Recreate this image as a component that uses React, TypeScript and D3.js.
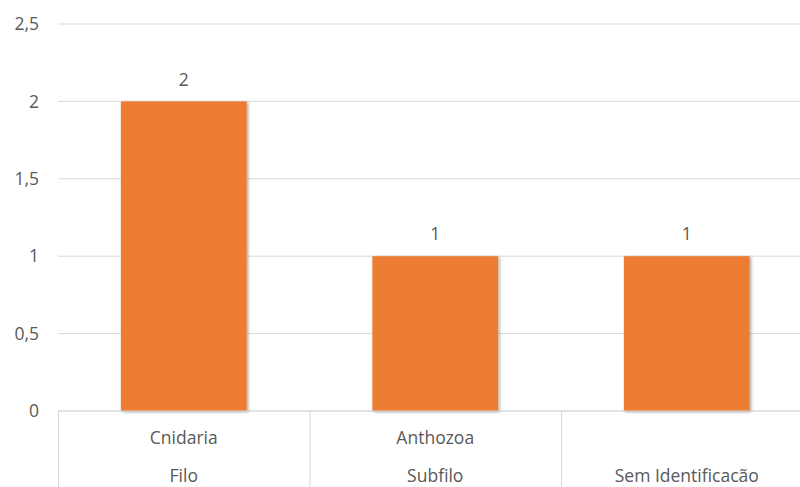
import React from "react";
import * as d3 from "d3";

const categories = ["Cnidaria", "Anthozoa", ""];
const groups = ["Filo", "Subfilo", "Sem Identificacão"];
const values = [2, 1, 1];
const yTicks = [0, 0.5, 1, 1.5, 2, 2.5];

const W = 800;
const H = 487;
const FONT = "'Open Sans', 'Liberation Sans', sans-serif";
const FS = 17.5;
const TEXT = "#595959";

export default function App() {
  const x = d3
    .scaleBand<number>()
    .domain(d3.range(values.length))
    .range([58, 812.5])
    .paddingInner(0.5)
    .paddingOuter(0.25);
  const y = d3.scaleLinear().domain([0, 2.5]).range([411, 24]);
  const step = x.step();
  const bandStart = (i: number) => (x(i) as number) - step * 0.25;
  const fmt = (v: number) => String(v).replace(".", ",");

  return (
    <svg
      width={W}
      height={H}
      style={{ position: "absolute", left: 0, top: 0, background: "#fff" }}
    >
      <defs>
        <filter id="sh" x="-10%" y="-10%" width="130%" height="130%">
          <feDropShadow dx="1.5" dy="1" stdDeviation="1.5" floodColor="#000" floodOpacity="0.35" />
        </filter>
      </defs>
      {yTicks.map((t) => (
        <g key={t}>
          <line x1={58} x2={W} y1={y(t)} y2={y(t)} stroke="#d9d9d9" strokeWidth={1} />
          <text
            x={39}
            y={y(t)}
            dy="0.35em"
            textAnchor="end"
            fontFamily={FONT}
            fontSize={FS}
            fill={TEXT}
          >
            {fmt(t)}
          </text>
        </g>
      ))}
      {values.map((v, i) => (
        <g key={i}>
          <rect
            x={x(i)}
            y={y(v)}
            width={x.bandwidth()}
            height={y(0) - y(v)}
            fill="#ED7D31"
            filter="url(#sh)"
          />
          <text
            x={(x(i) as number) + x.bandwidth() / 2}
            y={y(v) - 22}
            dy="0.35em"
            textAnchor="middle"
            fontFamily={FONT}
            fontSize={FS}
            fill={TEXT}
          >
            {v}
          </text>
        </g>
      ))}
      <line x1={58} x2={W} y1={y(0)} y2={y(0)} stroke="#d9d9d9" strokeWidth={1} />
      {values.map((_, i) => (
        <line
          key={"sep" + i}
          x1={bandStart(i) + 0.5}
          x2={bandStart(i) + 0.5}
          y1={y(0)}
          y2={H}
          stroke="#d9d9d9"
          strokeWidth={1}
        />
      ))}
      {categories.map((c, i) => (
        <text
          key={"c" + i}
          x={(x(i) as number) + x.bandwidth() / 2}
          y={438}
          dy="0.35em"
          textAnchor="middle"
          fontFamily={FONT}
          fontSize={FS}
          fill={TEXT}
        >
          {c}
        </text>
      ))}
      {groups.map((g, i) => (
        <text
          key={"g" + i}
          x={(x(i) as number) + x.bandwidth() / 2}
          y={476}
          dy="0.35em"
          textAnchor="middle"
          fontFamily={FONT}
          fontSize={FS}
          fill={TEXT}
        >
          {g}
        </text>
      ))}
    </svg>
  );
}
